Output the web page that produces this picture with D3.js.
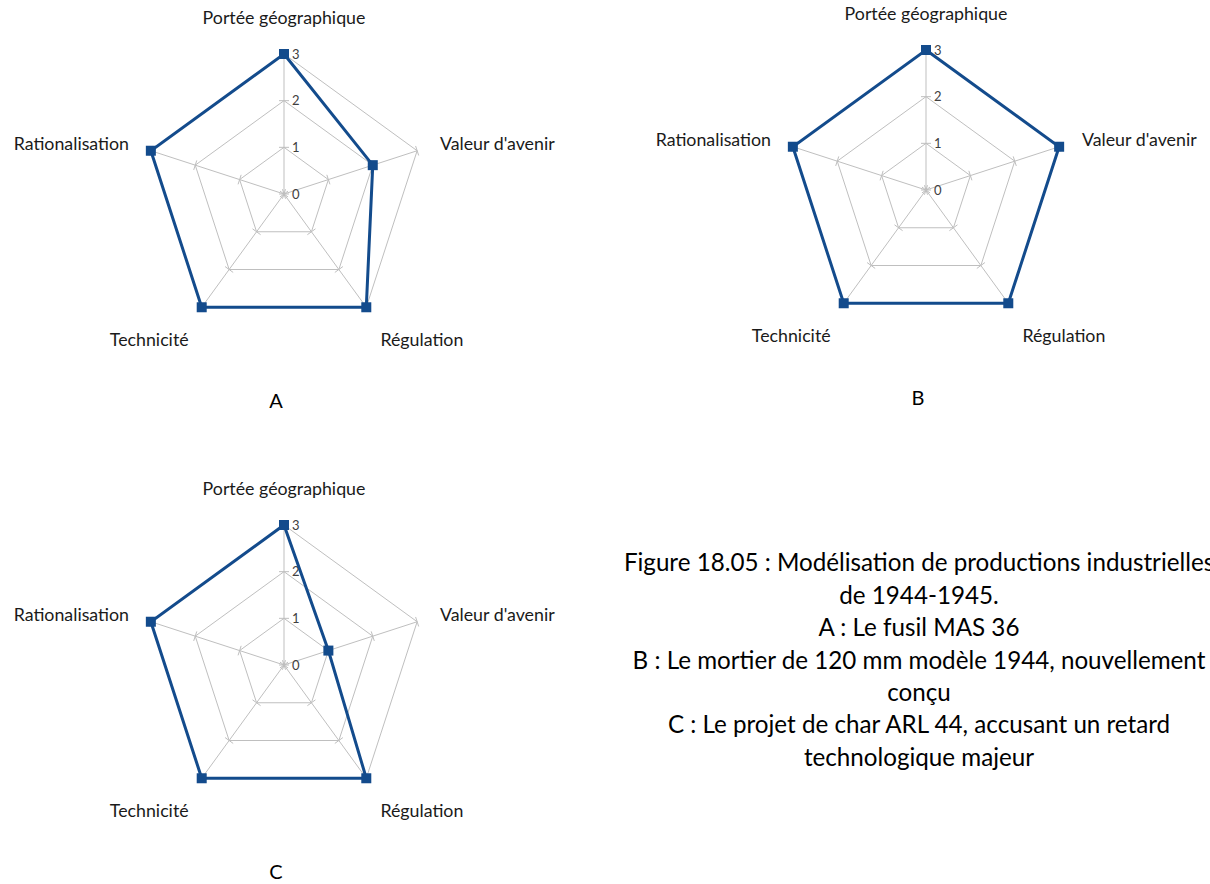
<!DOCTYPE html>
<html>
<head>
<meta charset="utf-8">
<script src="https://cdn.jsdelivr.net/npm/d3@7"></script>
<style>
  body { margin: 0; background: #fff; overflow: hidden; }
  svg { display: block; }
</style>
</head>
<body>
<script>
// axes of the radar, clockwise from the top
const axes = ["Portée géographique", "Valeur d'avenir", "Régulation", "Technicité", "Rationalisation"];
const ticks = [0, 1, 2, 3];
const valuesA = [3, 2, 3, 3, 3];
const valuesB = [3, 3, 3, 3, 3];
const valuesC = [3, 1, 3, 3, 3];
const panelNames = ["A", "B", "C"];
const caption = [
    "Figure 18.05 : Modélisation de productions industrielles",
    "de 1944-1945.",
    "A : Le fusil MAS 36",
    "B : Le mortier de 120 mm modèle 1944, nouvellement",
    "conçu",
    "C : Le projet de char ARL 44, accusant un retard",
    "technologique majeur"
];

const width = 1210, height = 884;
const R = 140;
const font = "Lato, 'Open Sans', sans-serif";
const blue = "#134b8c";
const grey = "#bfbfbf";

const svg = d3.select("body").append("svg")
    .attr("width", width)
    .attr("height", height);

const r = d3.scaleLinear().domain([0, 3]).range([0, R]);
const angle = d3.scalePoint().domain(axes).range([0, 2 * Math.PI * 4 / 5]);

function pt(a, rad) {
    return [Math.sin(a) * rad, -Math.cos(a) * rad];
}

function drawRadar(cx, cy, values, name, nameY) {
    const g = svg.append("g").attr("transform", "translate(" + cx + "," + cy + ")");

    // rings
    ticks.slice(1).forEach(function (t) {
        g.append("path")
            .attr("d", d3.lineRadial().angle(d => angle(d)).radius(r(t)).curve(d3.curveLinearClosed)(axes))
            .attr("fill", "none")
            .attr("stroke", grey)
            .attr("stroke-width", 1);
    });

    // spokes
    axes.forEach(function (ax) {
        const a = angle(ax);
        const p = pt(a, R);
        g.append("line")
            .attr("x1", 0).attr("y1", 0)
            .attr("x2", p[0]).attr("y2", p[1])
            .attr("stroke", grey).attr("stroke-width", 1);
        // tick marks across the spoke
        ticks.forEach(function (t) {
            const c = pt(a, r(t));
            const n = [Math.cos(a) * 5, Math.sin(a) * 5];
            g.append("line")
                .attr("x1", c[0] - n[0]).attr("y1", c[1] - n[1])
                .attr("x2", c[0] + n[0]).attr("y2", c[1] + n[1])
                .attr("stroke", grey).attr("stroke-width", 1);
        });
    });

    // tick values
    g.selectAll(".tv").data(ticks).enter().append("text")
        .attr("x", 8)
        .attr("y", d => -r(d))
        .attr("dy", "0.35em")
        .attr("font-family", font)
        .attr("font-size", 13)
        .attr("fill", "#404040")
        .text(d => d);

    // series
    g.append("path")
        .attr("d", d3.lineRadial().angle((d, i) => angle(axes[i])).radius(d => r(d)).curve(d3.curveLinearClosed)(values))
        .attr("fill", "none")
        .attr("stroke", blue)
        .attr("stroke-width", 3)
        .attr("stroke-linejoin", "miter");

    g.selectAll(".mk").data(values).enter().append("rect")
        .attr("x", (d, i) => pt(angle(axes[i]), r(d))[0] - 5)
        .attr("y", (d, i) => pt(angle(axes[i]), r(d))[1] - 5)
        .attr("width", 10).attr("height", 10)
        .attr("fill", blue);

    // axis labels
    axes.forEach(function (ax) {
        const a = angle(ax);
        const p = pt(a, R + 24);
        const s = Math.sin(a), c = Math.cos(a);
        g.append("text")
            .attr("x", p[0] + (s < -0.1 ? 1 : 0))
            .attr("y", p[1] + (c > 0.5 ? -12 : c < -0.5 ? 13 : 0))
            .attr("dy", "0.35em")
            .attr("text-anchor", s > 0.1 ? "start" : s < -0.1 ? "end" : "middle")
            .attr("font-family", font)
            .attr("font-size", 17.8)
            .attr("fill", "#1a1a1a")
            .text(ax);
    });

    svg.append("text")
        .attr("x", cx - 8)
        .attr("y", nameY)
        .attr("dy", "0.35em")
        .attr("text-anchor", "middle")
        .attr("font-family", font)
        .attr("font-size", 20)
        .attr("fill", "#000")
        .text(name);
}

drawRadar(284, 194, valuesA, panelNames[0], 401);
drawRadar(926, 190, valuesB, panelNames[1], 398);
drawRadar(284, 665, valuesC, panelNames[2], 872);

svg.selectAll(".cap").data(caption).enter().append("text")
    .attr("x", 919)
    .attr("y", (d, i) => 563 + i * 32.4)
    .attr("dy", "0.35em")
    .attr("text-anchor", "middle")
    .attr("font-family", font)
    .attr("font-size", 24.2)
    .attr("fill", "#000")
    .text(d => d);
</script>
</body>
</html>
